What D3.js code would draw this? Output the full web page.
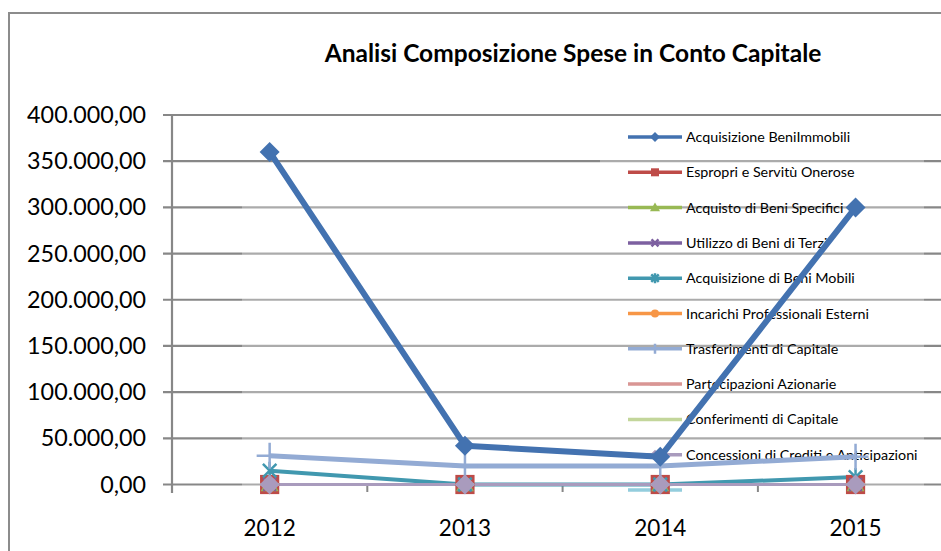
<!DOCTYPE html>
<html><head><meta charset="utf-8">
<script src="https://cdn.jsdelivr.net/npm/d3@7"></script>
<style>body{margin:0;background:#fff;}svg{display:block;}</style>
</head><body>
<svg id="c" width="941" height="551"></svg>
<script>
const years = ["2012","2013","2014","2015"];
const seriesNames = ["Acquisizione BeniImmobili","Espropri e Servitù Onerose","Acquisto di Beni Specifici","Utilizzo di Beni di Terzi","Acquisizione di Beni Mobili","Incarichi Professionali Esterni","Trasferimenti di Capitale","Partecipazioni Azionarie","Conferimenti di Capitale","Concessioni di Crediti e Anticipazioni",""];
const acqImmobili = [360000, 42000, 30000, 300000];
const espropri = [0, 0, 0, 0];
const acquistoSpecifici = [0, 0, 0, 0];
const utilizzoTerzi = [0, 0, 0, 0];
const acqMobili = [15000, 0, 0, 8000];
const incarichi = [0, 0, 0, 0];
const trasferimenti = [31000, 20000, 20000, 30000];
const partecipazioni = [0, 0, 0, 0];
const conferimenti = [0, 0, 0, 0];
const concessioni = [0, 0, 0, 0];
const extra = [0, 0, 0, 0];
const yTicks = [0, 50000, 100000, 150000, 200000, 250000, 300000, 350000, 400000];
const title = "Analisi Composizione Spese in Conto Capitale";

const colors = ["#4372b0","#be4b48","#98b954","#7d60a0","#4198af","#f79646","#93abd4","#d99694","#c3d69b","#a99bbd","#93cddd"];
const markers = ["diamond","square","triangle","x","star","circle","plus","dash","dash","diamond","square"];
const widths = [6,3,3,3,4,3,5,3,3,3,3];
const values = [acqImmobili,espropri,acquistoSpecifici,utilizzoTerzi,acqMobili,incarichi,trasferimenti,partecipazioni,conferimenti,concessioni,extra];

const svg = d3.select("#c");
const FONT = "Lato, 'Open Sans', sans-serif";

// outer border
svg.append("rect").attr("x",9).attr("y",13).attr("width",1000).attr("height",600)
  .attr("fill","#fff").attr("stroke","#8c8c8c").attr("stroke-width",2);

svg.append("text").attr("x",573).attr("y",62).attr("text-anchor","middle")
  .attr("font-family",FONT).attr("font-weight","bold").attr("font-size",24.5).attr("fill","#000").text(title);

const x = d3.scaleBand().domain(years).range([172, 172 + 4*195.3]);
const y = d3.scaleLinear().domain([0,400000]).range([484.5, 115]);

// gridlines
svg.append("g").selectAll("line").data(yTicks).join("line")
  .attr("x1",163).attr("x2",941).attr("y1",d=>y(d)).attr("y2",d=>y(d))
  .attr("stroke","#878787").attr("stroke-width",2.2);
// light band (as in reference)
svg.append("rect").attr("x",242).attr("y",185).attr("width",682).attr("height",305).attr("fill","#fff").attr("opacity",0.3);
svg.append("rect").attr("x",600).attr("y",125).attr("width",324).attr("height",60).attr("fill","#fff").attr("opacity",0.3);

// y axis
svg.append("line").attr("x1",172).attr("x2",172).attr("y1",y(400000)).attr("y2",493).attr("stroke","#878787").attr("stroke-width",2.2);
// x ticks
const bounds = years.slice(1).map(d=>x(d));
svg.append("g").selectAll("line").data(bounds).join("line")
  .attr("x1",d=>d).attr("x2",d=>d).attr("y1",484).attr("y2",492).attr("stroke","#878787").attr("stroke-width",2);

const fmt = d => d3.format(",.2f")(d).replace(/,/g,"#").replace(".",",").replace(/#/g,".");
svg.append("g").selectAll("text").data(yTicks).join("text")
  .attr("x",146).attr("y",d=>y(d)+8).attr("text-anchor","end")
  .attr("font-family",FONT).attr("font-size",23.3).attr("fill","#000").text(fmt);
svg.append("g").selectAll("text").data(years).join("text")
  .attr("x",d=>x(d)+x.bandwidth()/2).attr("y",536).attr("text-anchor","middle")
  .attr("font-family",FONT).attr("font-size",22.5).attr("fill","#000").text(d=>d);

function drawMarker(g, type, cx, cy, r, color){
  if(type==="diamond") g.append("path").attr("d",`M${cx},${cy-r}L${cx+r},${cy}L${cx},${cy+r}L${cx-r},${cy}Z`).attr("fill",color);
  else if(type==="square") g.append("rect").attr("x",cx-r*0.8).attr("y",cy-r*0.8).attr("width",r*1.6).attr("height",r*1.6).attr("fill",color);
  else if(type==="triangle") g.append("path").attr("d",`M${cx},${cy-r}L${cx+r},${cy+r*0.75}L${cx-r},${cy+r*0.75}Z`).attr("fill",color);
  else if(type==="circle") g.append("circle").attr("cx",cx).attr("cy",cy).attr("r",r*0.8).attr("fill",color);
  else if(type==="x"){ const k=r*0.7; g.append("path").attr("d",`M${cx-k},${cy-k}L${cx+k},${cy+k}M${cx-k},${cy+k}L${cx+k},${cy-k}`).attr("stroke",color).attr("stroke-width",2.5); }
  else if(type==="star"){ const k=r*0.75; g.append("path").attr("d",`M${cx-k},${cy-k}L${cx+k},${cy+k}M${cx-k},${cy+k}L${cx+k},${cy-k}M${cx},${cy-r}L${cx},${cy+r}`).attr("stroke",color).attr("stroke-width",2.5); }
  else if(type==="plus"){ g.append("path").attr("d",`M${cx-r},${cy}L${cx+r},${cy}M${cx},${cy-r}L${cx},${cy+r}`).attr("stroke",color).attr("stroke-width",2.5); }
  else if(type==="dash"){ g.append("path").attr("d",`M${cx-r},${cy}L${cx+r},${cy}`).attr("stroke",color).attr("stroke-width",3); }
}

// legend (drawn beneath series)
const legY0 = 137, legStep = 35.3;
const leg = svg.append("g");
seriesNames.forEach((n,i)=>{
  const ly = legY0 + i*legStep;
  const g = leg.append("g");
  g.append("line").attr("x1",628).attr("x2",682).attr("y1",ly).attr("y2",ly).attr("stroke",colors[i]).attr("stroke-width",3.5);
  drawMarker(g, markers[i], 655, ly, 5, colors[i]);
  g.append("text").attr("x",686).attr("y",ly+5).attr("font-family",FONT).attr("font-size",14.3).attr("fill","#000").text(n);
});

// series
const line = d3.line().x((d,i)=>x(years[i])+x.bandwidth()/2).y(d=>y(d));
[0,4,6,1,2,3,5,7,8,10,9].forEach(i=>{
  svg.append("path").datum(values[i]).attr("d",line).attr("fill","none")
    .attr("stroke",colors[i]).attr("stroke-width",widths[i]).attr("stroke-linejoin","round");
});
[10,1,2,3,5,4,7,8,6,9,0].forEach(i=>{
  const g = svg.append("g");
  values[i].forEach((v,j)=>{
    const cx = x(years[j])+x.bandwidth()/2, cy = y(v);
    const r = i===0?10 : i===1?12 : i===9?10 : i===6?13 : 9;
    drawMarker(g, markers[i], cx, cy, r, colors[i]);
  });
});
</script>
</body></html>
